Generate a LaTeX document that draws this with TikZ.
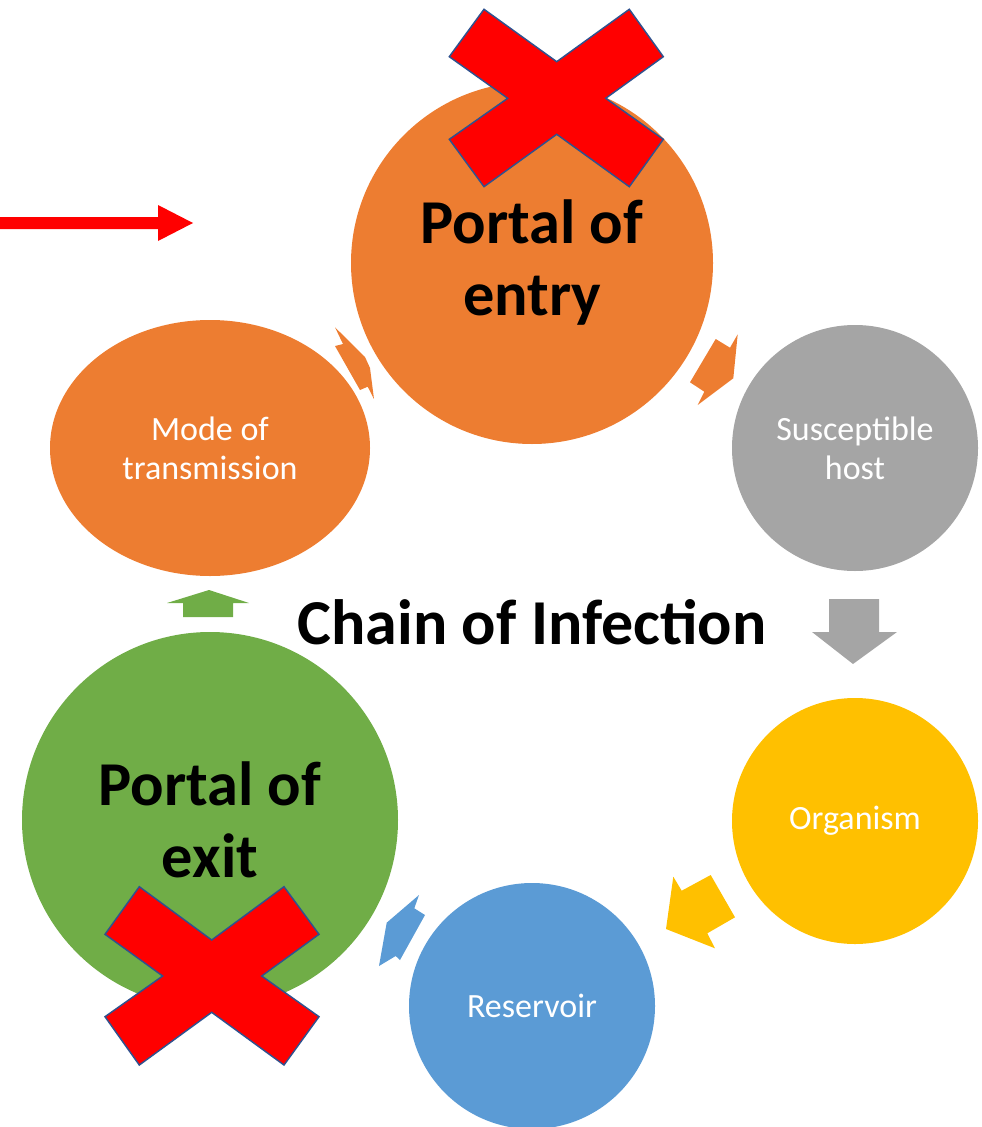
\documentclass[tikz,border=0pt]{standalone}
\usepackage{fontspec}
\usetikzlibrary{shapes.geometric}
\setmainfont{Carlito}
\definecolor{orng}{HTML}{ED7D31}
\definecolor{gry}{HTML}{A5A5A5}
\definecolor{ylw}{HTML}{FFC000}
\definecolor{blu}{HTML}{5B9BD5}
\definecolor{grn}{HTML}{70AD47}
\definecolor{crossline}{HTML}{2F528F}
\begin{document}
\begin{tikzpicture}[x=0.75pt,y=-0.75pt,
  stage/.style={circle,inner sep=0pt,text=white,align=center,font=\fontsize{25.5}{29.5}\selectfont},
  bigstage/.style={circle,inner sep=0pt,text=black,align=center,font=\fontsize{46.8}{54}\selectfont\bfseries},
  xmark/.style={fill=red,draw=crossline,line width=1.1pt,line join=miter}]
\useasboundingbox (0,0) rectangle (981,1127);
% block arrows
\fill[orng] (335,327.3) -- (365,357) -- (370,368) -- (374,399) -- (367.7,386.7) -- (360,390) -- (335,346) -- (343,344) -- cycle;
\fill[orng] (715.7,339) -- (730,347.7) -- (737.7,334.3) -- (733.3,378.3) -- (697.7,405) -- (704.3,391.7) -- (690,382.3) -- cycle;
\fill[gry] (829,599) -- (879,599) -- (879,632) -- (897,632) -- (853,664) -- (812,632) -- (829,632) -- cycle;
\fill[ylw] (673.3,876.7) -- (681.7,890.7) -- (710.7,875) -- (735,917.3) -- (707.3,933.3) -- (715,948.3) -- (666,929) -- cycle;
\fill[blu] (419,895) -- (414.3,908.3) -- (425,915) -- (400,960) -- (395.7,956) -- (379,966) -- (386.7,922.7) -- cycle;
\fill[grn] (183,617) -- (233,617) -- (233,603) -- (249,603) -- (209,590) -- (167,603) -- (183,603) -- cycle;
% stages
\node[bigstage,fill=orng,minimum size=271.5pt] (entry) at (532,263) {Portal of\\entry};
\node[stage,fill=gry,minimum size=184.5pt] (host) at (855,448) {Susceptible\\host};
\node[stage,fill=ylw,minimum size=184.5pt] (org) at (855,821) {Organism};
\node[stage,fill=blu,minimum size=184.5pt] (res) at (532,1006) {Reservoir};
\node[bigstage,fill=grn,minimum size=282pt] (exit) at (210,820) {Portal of\\exit};
\node[stage,ellipse,fill=orng,minimum width=240pt,minimum height=192pt] (mode) at (210,448) {Mode of\\transmission};
\node[font=\fontsize{48}{56}\selectfont\bfseries] (title) at (532,622) {Chain of Infection};
% crosses
\draw[xmark] (484,9.3) -- (556.7,61.7) -- (629.3,9.3) -- (663.3,56.7) -- (605.7,98.3) -- (663.3,139.3) -- (629.3,186.7) -- (556.7,134.3) -- (484,186.7) -- (449.3,139.3) -- (507.7,98.3) -- (449.3,56.7) -- cycle;
\draw[xmark] (139.3,886.7) -- (211.7,940) -- (284,886.7) -- (319,934.3) -- (261.7,976) -- (319,1016.7) -- (284,1065) -- (211.7,1012.3) -- (139.3,1065) -- (105,1016.7) -- (162.7,976) -- (105,934.3) -- cycle;
% red arrow
\fill[red] (0,217) -- (158,217) -- (158,205) -- (193,223) -- (158,241) -- (158,229) -- (0,229) -- cycle;
\end{tikzpicture}
\end{document}
